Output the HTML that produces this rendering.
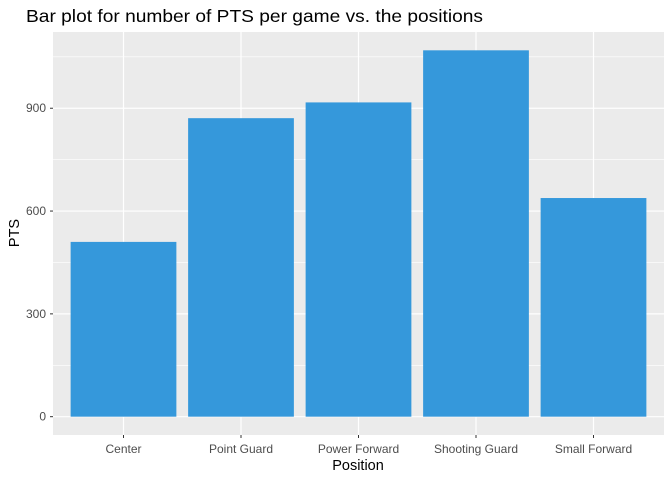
<!DOCTYPE html>
<html><head><meta charset="utf-8"><style>
body{margin:0;background:#fff;}
svg text{font-family:"Liberation Sans",sans-serif;}
</style></head><body>
<svg id="chart" width="672" height="480">
<text x="26" y="22" font-size="17.5" textLength="457" lengthAdjust="spacingAndGlyphs" fill="#000">Bar plot for number of PTS per game vs. the positions</text>
<rect x="53" y="32" width="611" height="403" fill="#ebebeb"/>
<g id="grid"></g><g id="bars"></g><g id="axes"></g>
<text x="358" y="470" font-size="14.5" text-anchor="middle" fill="#000">Position</text>
<text transform="translate(19,233) rotate(-90)" font-size="14.5" text-anchor="middle" fill="#000">PTS</text>
</svg>
<script>
const categories=["Center","Point Guard","Power Forward","Shooting Guard","Small Forward"];
const values=[510,871,917,1069,638];
const yTicks=[0,300,600,900];
const yMinorTicks=[150,450,750,1050];
const NS="http://www.w3.org/2000/svg";
const L=53,R=664,T=32,B=435;
const ymax=Math.max(...values)*1.05, ymin=-Math.max(...values)*0.05;
const y=v=>B-(v-ymin)/(ymax-ymin)*(B-T);
const band=(R-L)/(categories.length+0.2);
const x=i=>L+band*(0.6+i);
function mk(t,a,p){const e=document.createElementNS(NS,t);for(const k in a)e.setAttribute(k,a[k]);p.appendChild(e);return e;}
const grid=document.getElementById('grid'),bars=document.getElementById('bars'),axes=document.getElementById('axes');
yMinorTicks.forEach(v=>{const e=mk('line',{x1:L,x2:R,y1:y(v),y2:y(v),stroke:'#fff','stroke-width':0.6},grid);

});
yTicks.forEach(v=>{const e=mk('line',{x1:L,x2:R,y1:y(v),y2:y(v),stroke:'#fff','stroke-width':1.2},grid);


const t=mk('text',{x:L-7,y:y(v)+4,'font-size':12,'text-anchor':'end',fill:'#4d4d4d'},axes);t.textContent=v;


mk('line',{x1:L-3,x2:L,y1:y(v),y2:y(v),stroke:'#333','stroke-width':1},axes);});
categories.forEach((c,i)=>{const g=mk('line',{x1:x(i),x2:x(i),y1:T,y2:B,stroke:'#fff','stroke-width':1.2},grid);


const w=band*0.9;
const r=mk('rect',{x:x(i)-w/2,y:y(values[i]),width:w,height:y(0)-y(values[i]),fill:'#3598db'},bars);


mk('line',{x1:x(i),x2:x(i),y1:B,y2:B+3,stroke:'#333','stroke-width':1},axes);
const t=mk('text',{x:x(i),y:B+18,'font-size':12,'text-anchor':'middle',fill:'#4d4d4d'},axes);t.textContent=c;

});
</script>
</body></html>
